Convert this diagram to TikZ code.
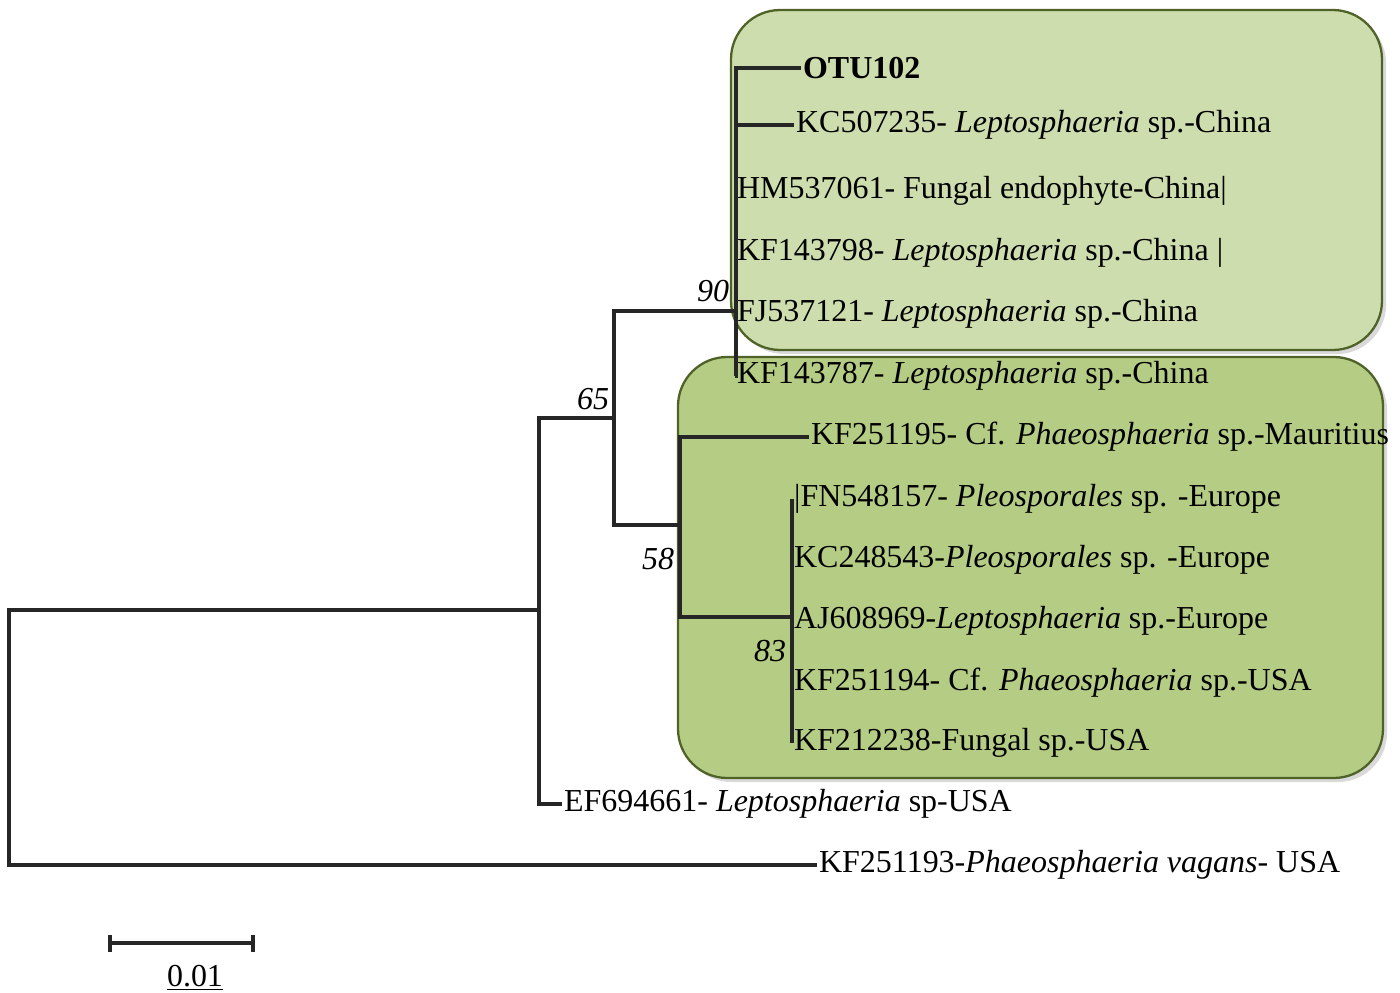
\documentclass[tikz,border=0pt]{standalone}
\usepackage{fontspec}
\setmainfont{Liberation Serif}
\usetikzlibrary{shadows}
\definecolor{cladetop}{RGB}{205,221,173}
\definecolor{cladelow}{RGB}{181,204,133}
\definecolor{cladeedge}{RGB}{79,98,40}
\tikzset{
 leaf/.style={anchor=west, inner sep=1pt, font=\fontsize{18.2}{21}\selectfont},
 boot/.style={inner sep=0pt, font=\fontsize{18.2}{21}\selectfont\itshape},
 branch/.style={line width=2pt, black!85},
 clade/.style={draw=cladeedge, line width=1.3pt, rounded corners=28pt, drop shadow={opacity=0.3}}
}

\begin{document}
\begin{tikzpicture}[x=0.02cm, y=-0.02cm]
 \useasboundingbox (0,0) rectangle (1400,993);
 \draw[clade, fill=cladetop] (731,10) rectangle (1382,350);
 \draw[clade, fill=cladelow] (678,357) rectangle (1383,778);

 \node[leaf, font=\fontsize{18.2}{21}\selectfont\bfseries] (otu) at (801,68) {OTU102};
 \node[leaf] (kc507) at (794,125) {KC507235- \textit{Leptosphaeria} sp.-China};
 \node[leaf] (hm537) at (735,191) {HM537061- Fungal endophyte-China|};
 \node[leaf] (kf798) at (735,253) {KF143798- \textit{Leptosphaeria} sp.-China |};
 \node[leaf] (fj537) at (735,314) {FJ537121- \textit{Leptosphaeria} sp.-China};
 \node[leaf] (kf787) at (735,376) {KF143787- \textit{Leptosphaeria} sp.-China};
 \node[leaf] (kf195) at (809,437) {KF251195- Cf. \textit{Phaeosphaeria} sp.-Mauritius};
 \node[leaf] (fn548) at (792,499) {|FN548157- \textit{Pleosporales} sp. -Europe};
 \node[leaf] (kc248) at (792,560) {KC248543-\textit{Pleosporales} sp. -Europe};
 \node[leaf] (aj608) at (792,621) {AJ608969-\textit{Leptosphaeria} sp.-Europe};
 \node[leaf] (kf194) at (792,683) {KF251194- Cf. \textit{Phaeosphaeria} sp.-USA};
 \node[leaf] (kf238) at (792,743) {KF212238-Fungal sp.-USA};
 \node[leaf] (ef694) at (562,804) {EF694661- \textit{Leptosphaeria} sp-USA};
 \node[leaf] (kf193) at (817,865) {KF251193-\textit{Phaeosphaeria vagans}- USA};

 \coordinate (root) at (9,736);
 \coordinate (n539) at (539,610);
 \coordinate (n614) at (614,418);
 \coordinate (n736) at (736,311);
 \coordinate (n680) at (680,525);
 \coordinate (n792) at (792,617);

 \draw[branch] (root) |- (n539);
 \draw[branch] (root) |- (kf193.west);
 \draw[branch] (n539) |- (n614);
 \draw[branch] (n539) |- (ef694.west);
 \draw[branch] (n614) |- (n736);
 \draw[branch] (n614) |- (n680);
 \foreach \t in {otu,kc507,hm537,kf798,fj537,kf787}
  \draw[branch] (n736) |- (\t.west);
 \draw[branch] (n680) |- (kf195.west);
 \draw[branch] (n680) |- (n792);
 \foreach \t in {fn548,kc248,aj608,kf194,kf238}
  \draw[branch] (n792) |- (\t.west);

 \node[boot] (b90) at (713,291) {90};
 \node[boot] (b65) at (593,399) {65};
 \node[boot] (b58) at (658,559) {58};
 \node[boot] (b83) at (770,651) {83};

 \draw[branch] (110,943) -- (253,943);
 \draw[branch] (110,935) -- (110,952);
 \draw[branch] (253,935) -- (253,952);
 \node[boot, font=\fontsize{18.2}{21}\selectfont] (scale) at (195,978) {\underline{0.01}};
\end{tikzpicture}
\end{document}
